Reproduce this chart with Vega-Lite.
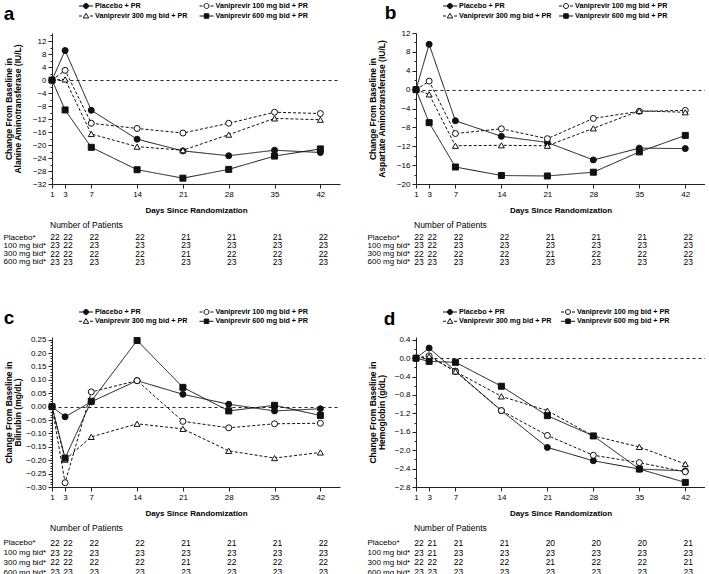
{
"$schema": "https://vega.github.io/schema/vega-lite/v6.json",
"padding": {"left": 3, "top": 1, "right": 0, "bottom": 0},
"background": "white",
"config": {
 "font": "Liberation Sans",
 "view": {"stroke": null},
 "axis": {"domainColor": "#222", "tickColor": "#222", "labelColor": "#000", "labelFontSize": 8, "titleColor": "#000", "titleFontSize": 8.5, "titleFontWeight": "bold", "grid": false, "labelFont": "Liberation Sans", "titleFont": "Liberation Sans"},
 "title": {"color": "#000"}
},
"datasets": {
 "leg": [
  {"group": "Placebo + PR", "col": 1, "row": 1},
  {"group": "Vaniprevir 100 mg bid + PR", "col": 2, "row": 1},
  {"group": "Vaniprevir 300 mg bid + PR", "col": 1, "row": 2},
  {"group": "Vaniprevir 600 mg bid + PR", "col": 2, "row": 2}
 ],
 "a": [
  {"day":1,"group":"Placebo + PR","value":0},{"day":3,"group":"Placebo + PR","value":9.1},{"day":7,"group":"Placebo + PR","value":-9.3},{"day":14,"group":"Placebo + PR","value":-18.2},{"day":21,"group":"Placebo + PR","value":-21.8},{"day":28,"group":"Placebo + PR","value":-23.3},{"day":35,"group":"Placebo + PR","value":-21.6},{"day":42,"group":"Placebo + PR","value":-22.3},
  {"day":1,"group":"Vaniprevir 100 mg bid + PR","value":0},{"day":3,"group":"Vaniprevir 100 mg bid + PR","value":3.0},{"day":7,"group":"Vaniprevir 100 mg bid + PR","value":-13.3},{"day":14,"group":"Vaniprevir 100 mg bid + PR","value":-14.9},{"day":21,"group":"Vaniprevir 100 mg bid + PR","value":-16.3},{"day":28,"group":"Vaniprevir 100 mg bid + PR","value":-13.3},{"day":35,"group":"Vaniprevir 100 mg bid + PR","value":-9.9},{"day":42,"group":"Vaniprevir 100 mg bid + PR","value":-10.3},
  {"day":1,"group":"Vaniprevir 300 mg bid + PR","value":0},{"day":3,"group":"Vaniprevir 300 mg bid + PR","value":0.2},{"day":7,"group":"Vaniprevir 300 mg bid + PR","value":-16.6},{"day":14,"group":"Vaniprevir 300 mg bid + PR","value":-20.5},{"day":21,"group":"Vaniprevir 300 mg bid + PR","value":-21.6},{"day":28,"group":"Vaniprevir 300 mg bid + PR","value":-16.8},{"day":35,"group":"Vaniprevir 300 mg bid + PR","value":-11.8},{"day":42,"group":"Vaniprevir 300 mg bid + PR","value":-12.2},
  {"day":1,"group":"Vaniprevir 600 mg bid + PR","value":0},{"day":3,"group":"Vaniprevir 600 mg bid + PR","value":-9.2},{"day":7,"group":"Vaniprevir 600 mg bid + PR","value":-20.7},{"day":14,"group":"Vaniprevir 600 mg bid + PR","value":-27.6},{"day":21,"group":"Vaniprevir 600 mg bid + PR","value":-30.2},{"day":28,"group":"Vaniprevir 600 mg bid + PR","value":-27.5},{"day":35,"group":"Vaniprevir 600 mg bid + PR","value":-23.4},{"day":42,"group":"Vaniprevir 600 mg bid + PR","value":-21.2}
 ],
 "b": [
  {"day":1,"group":"Placebo + PR","value":0},{"day":3,"group":"Placebo + PR","value":9.6},{"day":7,"group":"Placebo + PR","value":-6.6},{"day":14,"group":"Placebo + PR","value":-9.9},{"day":21,"group":"Placebo + PR","value":-11.2},{"day":28,"group":"Placebo + PR","value":-14.9},{"day":35,"group":"Placebo + PR","value":-12.4},{"day":42,"group":"Placebo + PR","value":-12.5},
  {"day":1,"group":"Vaniprevir 100 mg bid + PR","value":0},{"day":3,"group":"Vaniprevir 100 mg bid + PR","value":1.8},{"day":7,"group":"Vaniprevir 100 mg bid + PR","value":-9.3},{"day":14,"group":"Vaniprevir 100 mg bid + PR","value":-8.3},{"day":21,"group":"Vaniprevir 100 mg bid + PR","value":-10.4},{"day":28,"group":"Vaniprevir 100 mg bid + PR","value":-6.1},{"day":35,"group":"Vaniprevir 100 mg bid + PR","value":-4.6},{"day":42,"group":"Vaniprevir 100 mg bid + PR","value":-4.4},
  {"day":1,"group":"Vaniprevir 300 mg bid + PR","value":0},{"day":3,"group":"Vaniprevir 300 mg bid + PR","value":-1.0},{"day":7,"group":"Vaniprevir 300 mg bid + PR","value":-11.9},{"day":14,"group":"Vaniprevir 300 mg bid + PR","value":-11.8},{"day":21,"group":"Vaniprevir 300 mg bid + PR","value":-11.9},{"day":28,"group":"Vaniprevir 300 mg bid + PR","value":-8.2},{"day":35,"group":"Vaniprevir 300 mg bid + PR","value":-4.5},{"day":42,"group":"Vaniprevir 300 mg bid + PR","value":-4.8},
  {"day":1,"group":"Vaniprevir 600 mg bid + PR","value":0},{"day":3,"group":"Vaniprevir 600 mg bid + PR","value":-7.0},{"day":7,"group":"Vaniprevir 600 mg bid + PR","value":-16.4},{"day":14,"group":"Vaniprevir 600 mg bid + PR","value":-18.2},{"day":21,"group":"Vaniprevir 600 mg bid + PR","value":-18.3},{"day":28,"group":"Vaniprevir 600 mg bid + PR","value":-17.5},{"day":35,"group":"Vaniprevir 600 mg bid + PR","value":-13.2},{"day":42,"group":"Vaniprevir 600 mg bid + PR","value":-9.7}
 ],
 "c": [
  {"day":1,"group":"Placebo + PR","value":0},{"day":3,"group":"Placebo + PR","value":-0.038},{"day":7,"group":"Placebo + PR","value":0.018},{"day":14,"group":"Placebo + PR","value":0.097},{"day":21,"group":"Placebo + PR","value":0.046},{"day":28,"group":"Placebo + PR","value":0.009},{"day":35,"group":"Placebo + PR","value":-0.016},{"day":42,"group":"Placebo + PR","value":-0.008},
  {"day":1,"group":"Vaniprevir 100 mg bid + PR","value":0},{"day":3,"group":"Vaniprevir 100 mg bid + PR","value":-0.284},{"day":7,"group":"Vaniprevir 100 mg bid + PR","value":0.055},{"day":14,"group":"Vaniprevir 100 mg bid + PR","value":0.097},{"day":21,"group":"Vaniprevir 100 mg bid + PR","value":-0.055},{"day":28,"group":"Vaniprevir 100 mg bid + PR","value":-0.079},{"day":35,"group":"Vaniprevir 100 mg bid + PR","value":-0.064},{"day":42,"group":"Vaniprevir 100 mg bid + PR","value":-0.062},
  {"day":1,"group":"Vaniprevir 300 mg bid + PR","value":0},{"day":3,"group":"Vaniprevir 300 mg bid + PR","value":-0.198},{"day":7,"group":"Vaniprevir 300 mg bid + PR","value":-0.113},{"day":14,"group":"Vaniprevir 300 mg bid + PR","value":-0.064},{"day":21,"group":"Vaniprevir 300 mg bid + PR","value":-0.083},{"day":28,"group":"Vaniprevir 300 mg bid + PR","value":-0.165},{"day":35,"group":"Vaniprevir 300 mg bid + PR","value":-0.192},{"day":42,"group":"Vaniprevir 300 mg bid + PR","value":-0.171},
  {"day":1,"group":"Vaniprevir 600 mg bid + PR","value":0},{"day":3,"group":"Vaniprevir 600 mg bid + PR","value":-0.192},{"day":7,"group":"Vaniprevir 600 mg bid + PR","value":0.02},{"day":14,"group":"Vaniprevir 600 mg bid + PR","value":0.247},{"day":21,"group":"Vaniprevir 600 mg bid + PR","value":0.072},{"day":28,"group":"Vaniprevir 600 mg bid + PR","value":-0.016},{"day":35,"group":"Vaniprevir 600 mg bid + PR","value":0.005},{"day":42,"group":"Vaniprevir 600 mg bid + PR","value":-0.033}
 ],
 "d": [
  {"day":1,"group":"Placebo + PR","value":0},{"day":3,"group":"Placebo + PR","value":0.22},{"day":7,"group":"Placebo + PR","value":-0.28},{"day":14,"group":"Placebo + PR","value":-1.14},{"day":21,"group":"Placebo + PR","value":-1.94},{"day":28,"group":"Placebo + PR","value":-2.23},{"day":35,"group":"Placebo + PR","value":-2.41},{"day":42,"group":"Placebo + PR","value":-2.45},
  {"day":1,"group":"Vaniprevir 100 mg bid + PR","value":0},{"day":3,"group":"Vaniprevir 100 mg bid + PR","value":0.05},{"day":7,"group":"Vaniprevir 100 mg bid + PR","value":-0.29},{"day":14,"group":"Vaniprevir 100 mg bid + PR","value":-1.14},{"day":21,"group":"Vaniprevir 100 mg bid + PR","value":-1.68},{"day":28,"group":"Vaniprevir 100 mg bid + PR","value":-2.11},{"day":35,"group":"Vaniprevir 100 mg bid + PR","value":-2.27},{"day":42,"group":"Vaniprevir 100 mg bid + PR","value":-2.47},
  {"day":1,"group":"Vaniprevir 300 mg bid + PR","value":0},{"day":3,"group":"Vaniprevir 300 mg bid + PR","value":0.04},{"day":7,"group":"Vaniprevir 300 mg bid + PR","value":-0.29},{"day":14,"group":"Vaniprevir 300 mg bid + PR","value":-0.83},{"day":21,"group":"Vaniprevir 300 mg bid + PR","value":-1.14},{"day":28,"group":"Vaniprevir 300 mg bid + PR","value":-1.69},{"day":35,"group":"Vaniprevir 300 mg bid + PR","value":-1.93},{"day":42,"group":"Vaniprevir 300 mg bid + PR","value":-2.30},
  {"day":1,"group":"Vaniprevir 600 mg bid + PR","value":0},{"day":3,"group":"Vaniprevir 600 mg bid + PR","value":-0.07},{"day":7,"group":"Vaniprevir 600 mg bid + PR","value":-0.09},{"day":14,"group":"Vaniprevir 600 mg bid + PR","value":-0.61},{"day":21,"group":"Vaniprevir 600 mg bid + PR","value":-1.25},{"day":28,"group":"Vaniprevir 600 mg bid + PR","value":-1.69},{"day":35,"group":"Vaniprevir 600 mg bid + PR","value":-2.41},{"day":42,"group":"Vaniprevir 600 mg bid + PR","value":-2.70}
 ],
 "nABC": [
  {"day":1,"row":"Placebo*","n":22},{"day":3,"row":"Placebo*","n":22},{"day":7,"row":"Placebo*","n":22},{"day":14,"row":"Placebo*","n":22},{"day":21,"row":"Placebo*","n":21},{"day":28,"row":"Placebo*","n":21},{"day":35,"row":"Placebo*","n":21},{"day":42,"row":"Placebo*","n":22},
  {"day":1,"row":"100 mg bid*","n":23},{"day":3,"row":"100 mg bid*","n":22},{"day":7,"row":"100 mg bid*","n":23},{"day":14,"row":"100 mg bid*","n":23},{"day":21,"row":"100 mg bid*","n":23},{"day":28,"row":"100 mg bid*","n":23},{"day":35,"row":"100 mg bid*","n":23},{"day":42,"row":"100 mg bid*","n":23},
  {"day":1,"row":"300 mg bid*","n":22},{"day":3,"row":"300 mg bid*","n":22},{"day":7,"row":"300 mg bid*","n":22},{"day":14,"row":"300 mg bid*","n":22},{"day":21,"row":"300 mg bid*","n":21},{"day":28,"row":"300 mg bid*","n":22},{"day":35,"row":"300 mg bid*","n":22},{"day":42,"row":"300 mg bid*","n":22},
  {"day":1,"row":"600 mg bid*","n":23},{"day":3,"row":"600 mg bid*","n":23},{"day":7,"row":"600 mg bid*","n":23},{"day":14,"row":"600 mg bid*","n":23},{"day":21,"row":"600 mg bid*","n":23},{"day":28,"row":"600 mg bid*","n":23},{"day":35,"row":"600 mg bid*","n":23},{"day":42,"row":"600 mg bid*","n":23}
 ],
 "nD": [
  {"day":1,"row":"Placebo*","n":22},{"day":3,"row":"Placebo*","n":21},{"day":7,"row":"Placebo*","n":21},{"day":14,"row":"Placebo*","n":21},{"day":21,"row":"Placebo*","n":20},{"day":28,"row":"Placebo*","n":20},{"day":35,"row":"Placebo*","n":20},{"day":42,"row":"Placebo*","n":21},
  {"day":1,"row":"100 mg bid*","n":23},{"day":3,"row":"100 mg bid*","n":21},{"day":7,"row":"100 mg bid*","n":23},{"day":14,"row":"100 mg bid*","n":23},{"day":21,"row":"100 mg bid*","n":23},{"day":28,"row":"100 mg bid*","n":23},{"day":35,"row":"100 mg bid*","n":23},{"day":42,"row":"100 mg bid*","n":23},
  {"day":1,"row":"300 mg bid*","n":22},{"day":3,"row":"300 mg bid*","n":22},{"day":7,"row":"300 mg bid*","n":22},{"day":14,"row":"300 mg bid*","n":22},{"day":21,"row":"300 mg bid*","n":21},{"day":28,"row":"300 mg bid*","n":22},{"day":35,"row":"300 mg bid*","n":22},{"day":42,"row":"300 mg bid*","n":21},
  {"day":1,"row":"600 mg bid*","n":23},{"day":3,"row":"600 mg bid*","n":23},{"day":7,"row":"600 mg bid*","n":23},{"day":14,"row":"600 mg bid*","n":23},{"day":21,"row":"600 mg bid*","n":23},{"day":28,"row":"600 mg bid*","n":23},{"day":35,"row":"600 mg bid*","n":23},{"day":42,"row":"600 mg bid*","n":23}
 ]
},
"resolve": {"scale": {"x": "independent", "y": "independent", "shape": "independent", "fill": "independent", "strokeDash": "independent"}},
"spacing": 40,
"vconcat": [
 {
  "spacing": 27,
  "resolve": {"scale": {"x": "independent", "y": "independent", "shape": "independent", "fill": "independent", "strokeDash": "independent"}},
  "hconcat": [
   {
    "spacing": 6,
    "resolve": {"scale": {"x": "independent", "y": "independent", "shape": "independent", "fill": "independent", "strokeDash": "independent"}},
    "vconcat": [
     {
      "width": 288, "height": 18,
      "data": {"name": "leg"},
      "title": {"text": "a", "orient": "left", "angle": 0, "align": "right", "baseline": "middle", "anchor": "middle", "frame": "group", "offset": 27, "dy": 3.5, "fontSize": 19, "fontWeight": "bold", "color": "#000"},
      "encoding": {
       "x": {"field": "col", "type": "quantitative", "scale": {"domain": [1, 2], "range": [34, 154.5]}, "axis": null},
       "y": {"field": "row", "type": "quantitative", "scale": {"domain": [1, 2], "range": [5, 15]}, "axis": null}
      },
      "layer": [
       {"mark": {"type": "point", "filled": true, "stroke": "#111", "strokeWidth": 1, "opacity": 1, "size": 100}, "encoding": {
         "shape": {"field": "group", "scale": {"domain": ["Placebo + PR", "Vaniprevir 100 mg bid + PR", "Vaniprevir 300 mg bid + PR", "Vaniprevir 600 mg bid + PR"], "range": ["M-1.4,0L-0.5,0M0.5,0L1.4,0M0.5,0C0.5,0.276,0.276,0.5,0,0.5C-0.276,0.5,-0.5,0.276,-0.5,0C-0.5,-0.276,-0.276,-0.5,0,-0.5C0.276,-0.5,0.5,-0.276,0.5,0Z", "M-1.4,0L-0.8,0M0.8,0L1.4,0M0.5,0C0.5,0.276,0.276,0.5,0,0.5C-0.276,0.5,-0.5,0.276,-0.5,0C-0.5,-0.276,-0.276,-0.5,0,-0.5C0.276,-0.5,0.5,-0.276,0.5,0Z", "M-1.4,0L-0.8,0M0.8,0L1.4,0M0,-0.55L0.55,0.4L-0.55,0.4Z", "M-1.4,0L-0.45,0M0.45,0L1.4,0M-0.45,-0.45L0.45,-0.45L0.45,0.45L-0.45,0.45Z"]}, "legend": null},
         "fill": {"field": "group", "scale": {"domain": ["Placebo + PR", "Vaniprevir 100 mg bid + PR", "Vaniprevir 300 mg bid + PR", "Vaniprevir 600 mg bid + PR"], "range": ["#111", "#fff", "#fff", "#111"]}, "legend": null}}},
       {"mark": {"type": "text", "align": "left", "baseline": "middle", "dx": 9, "fontSize": 7.2, "fontWeight": "bold", "color": "#000"}, "encoding": {"text": {"field": "group"}}}
      ]
     },
     {
      "width": 288, "height": 151,
      "data": {"name": "a"},
      "encoding": {
       "x": {"field": "day", "type": "quantitative", "scale": {"domain": [1, 45], "nice": false, "zero": false}, "axis": {"values": [1,3,7,14,21,28,35,42], "title": "Days Since Randomization", "titleFontSize": 8, "titlePadding": 8, "labelPadding": 2, "tickSize": 4, "labelFlush": false}},
       "y": {"field": "value", "type": "quantitative", "scale": {"domain": [-32, 14.5], "nice": false, "zero": false}, "axis": {"values": [-32,-30,-28,-26,-24,-22,-20,-18,-16,-14,-12,-10,-8,-6,-4,-2,0,2,4,6,8,10,12,14], "labelExpr": "datum.value % 4 === 0 ? datum.label : ''", "labelOverlap": false, "labelFlush": false, "labelPadding": 2, "tickSize": {"condition": {"test": "datum.value % 4 === 0", "value": 4}, "value": 2}, "grid": true, "gridDash": [3, 3], "gridColor": "#222", "gridOpacity": {"condition": {"test": "datum.value === 0", "value": 1}, "value": 0}, "title": ["Change From Baseline in", "Alanine Aminotransferase (IU/L)"], "titleX": -44, "titleBaseline": "middle", "titleLineHeight": 9}}
      },
      "layer": [
       {"mark": {"type": "line", "color": "#111", "strokeWidth": 1}, "encoding": {"detail": {"field": "group"}, "strokeDash": {"field": "group", "scale": {"domain": ["Placebo + PR", "Vaniprevir 100 mg bid + PR", "Vaniprevir 300 mg bid + PR", "Vaniprevir 600 mg bid + PR"], "range": [[1, 0], [3, 2], [3, 2], [1, 0]]}, "legend": null}}},
       {"mark": {"type": "point", "filled": true, "stroke": "#111", "strokeWidth": 1, "opacity": 1, "size": 36}, "encoding": {
         "fill": {"field": "group", "scale": {"domain": ["Placebo + PR", "Vaniprevir 100 mg bid + PR", "Vaniprevir 300 mg bid + PR", "Vaniprevir 600 mg bid + PR"], "range": ["#111", "#fff", "#fff", "#111"]}, "legend": null},
         "shape": {"field": "group", "scale": {"domain": ["Placebo + PR", "Vaniprevir 100 mg bid + PR", "Vaniprevir 300 mg bid + PR", "Vaniprevir 600 mg bid + PR"], "range": ["circle", "circle", "triangle-up", "square"]}, "legend": null}
       }}
      ]
     },
     {
      "width": 288, "height": 33,
      "data": {"name": "nABC"},
      "title": {"text": "Number of Patients", "anchor": "start", "frame": "group", "fontSize": 8.5, "fontWeight": "normal", "offset": 4, "dx": -2, "color": "#000"},
      "mark": {"type": "text", "fontSize": 8.5, "dx": 3, "color": "#000"},
      "encoding": {
       "x": {"field": "day", "type": "quantitative", "scale": {"domain": [1, 45], "nice": false, "zero": false}, "axis": null},
       "y": {"field": "row", "type": "nominal", "sort": ["Placebo*", "100 mg bid*", "300 mg bid*", "600 mg bid*"], "axis": {"title": null, "domain": false, "ticks": false, "tickSize": 0, "labelAlign": "left", "labelPadding": 49, "labelFontSize": 8, "labelColor": "#000"}},
       "text": {"field": "n", "type": "quantitative"}
      }
     }
    ]
   },
   {
    "spacing": 6,
    "resolve": {"scale": {"x": "independent", "y": "independent", "shape": "independent", "fill": "independent", "strokeDash": "independent"}},
    "vconcat": [
     {
      "width": 289, "height": 17,
      "data": {"name": "leg"},
      "title": {"text": "b", "orient": "left", "angle": 0, "align": "right", "baseline": "middle", "anchor": "middle", "frame": "group", "offset": 8, "dy": 3, "fontSize": 19, "fontWeight": "bold", "color": "#000"},
      "encoding": {
       "x": {"field": "col", "type": "quantitative", "scale": {"domain": [1, 2], "range": [34, 150]}, "axis": null},
       "y": {"field": "row", "type": "quantitative", "scale": {"domain": [1, 2], "range": [5, 15]}, "axis": null}
      },
      "layer": [
       {"mark": {"type": "point", "filled": true, "stroke": "#111", "strokeWidth": 1, "opacity": 1, "size": 100}, "encoding": {
         "shape": {"field": "group", "scale": {"domain": ["Placebo + PR", "Vaniprevir 100 mg bid + PR", "Vaniprevir 300 mg bid + PR", "Vaniprevir 600 mg bid + PR"], "range": ["M-1.4,0L-0.5,0M0.5,0L1.4,0M0.5,0C0.5,0.276,0.276,0.5,0,0.5C-0.276,0.5,-0.5,0.276,-0.5,0C-0.5,-0.276,-0.276,-0.5,0,-0.5C0.276,-0.5,0.5,-0.276,0.5,0Z", "M-1.4,0L-0.8,0M0.8,0L1.4,0M0.5,0C0.5,0.276,0.276,0.5,0,0.5C-0.276,0.5,-0.5,0.276,-0.5,0C-0.5,-0.276,-0.276,-0.5,0,-0.5C0.276,-0.5,0.5,-0.276,0.5,0Z", "M-1.4,0L-0.8,0M0.8,0L1.4,0M0,-0.55L0.55,0.4L-0.55,0.4Z", "M-1.4,0L-0.45,0M0.45,0L1.4,0M-0.45,-0.45L0.45,-0.45L0.45,0.45L-0.45,0.45Z"]}, "legend": null},
         "fill": {"field": "group", "scale": {"domain": ["Placebo + PR", "Vaniprevir 100 mg bid + PR", "Vaniprevir 300 mg bid + PR", "Vaniprevir 600 mg bid + PR"], "range": ["#111", "#fff", "#fff", "#111"]}, "legend": null}}},
       {"mark": {"type": "text", "align": "left", "baseline": "middle", "dx": 9, "fontSize": 7.2, "fontWeight": "bold", "color": "#000"}, "encoding": {"text": {"field": "group"}}}
      ]
     },
     {
      "width": 289, "height": 151,
      "data": {"name": "b"},
      "encoding": {
       "x": {"field": "day", "type": "quantitative", "scale": {"domain": [1, 45], "nice": false, "zero": false}, "axis": {"values": [1,3,7,14,21,28,35,42], "title": "Days Since Randomization", "titleFontSize": 8, "titlePadding": 8, "labelPadding": 2, "tickSize": 4, "labelFlush": false}},
       "y": {"field": "value", "type": "quantitative", "scale": {"domain": [-20, 12], "nice": false, "zero": false}, "axis": {"values": [-20,-18,-16,-14,-12,-10,-8,-6,-4,-2,0,2,4,6,8,10,12], "labelExpr": "datum.value % 4 === 0 ? datum.label : ''", "labelOverlap": false, "labelFlush": false, "labelPadding": 2, "tickSize": {"condition": {"test": "datum.value % 4 === 0", "value": 4}, "value": 2}, "grid": true, "gridDash": [3, 3], "gridColor": "#222", "gridOpacity": {"condition": {"test": "datum.value === 0", "value": 1}, "value": 0}, "title": ["Change From Baseline in", "Aspartate Aminotransferase (IU/L)"], "titleX": -44, "titleBaseline": "middle", "titleLineHeight": 9}}
      },
      "layer": [
       {"mark": {"type": "line", "color": "#111", "strokeWidth": 1}, "encoding": {"detail": {"field": "group"}, "strokeDash": {"field": "group", "scale": {"domain": ["Placebo + PR", "Vaniprevir 100 mg bid + PR", "Vaniprevir 300 mg bid + PR", "Vaniprevir 600 mg bid + PR"], "range": [[1, 0], [3, 2], [3, 2], [1, 0]]}, "legend": null}}},
       {"mark": {"type": "point", "filled": true, "stroke": "#111", "strokeWidth": 1, "opacity": 1, "size": 36}, "encoding": {
         "fill": {"field": "group", "scale": {"domain": ["Placebo + PR", "Vaniprevir 100 mg bid + PR", "Vaniprevir 300 mg bid + PR", "Vaniprevir 600 mg bid + PR"], "range": ["#111", "#fff", "#fff", "#111"]}, "legend": null},
         "shape": {"field": "group", "scale": {"domain": ["Placebo + PR", "Vaniprevir 100 mg bid + PR", "Vaniprevir 300 mg bid + PR", "Vaniprevir 600 mg bid + PR"], "range": ["circle", "circle", "triangle-up", "square"]}, "legend": null}
       }}
      ]
     },
     {
      "width": 289, "height": 33,
      "data": {"name": "nABC"},
      "title": {"text": "Number of Patients", "anchor": "start", "frame": "group", "fontSize": 8.5, "fontWeight": "normal", "offset": 4, "dx": -2, "color": "#000"},
      "mark": {"type": "text", "fontSize": 8.5, "dx": 3, "color": "#000"},
      "encoding": {
       "x": {"field": "day", "type": "quantitative", "scale": {"domain": [1, 45], "nice": false, "zero": false}, "axis": null},
       "y": {"field": "row", "type": "nominal", "sort": ["Placebo*", "100 mg bid*", "300 mg bid*", "600 mg bid*"], "axis": {"title": null, "domain": false, "ticks": false, "tickSize": 0, "labelAlign": "left", "labelPadding": 49, "labelFontSize": 8, "labelColor": "#000"}},
       "text": {"field": "n", "type": "quantitative"}
      }
     }
    ]
   }
  ]
 },
 {
  "spacing": 27,
  "resolve": {"scale": {"x": "independent", "y": "independent", "shape": "independent", "fill": "independent", "strokeDash": "independent"}},
  "hconcat": [
   {
    "spacing": 6,
    "resolve": {"scale": {"x": "independent", "y": "independent", "shape": "independent", "fill": "independent", "strokeDash": "independent"}},
    "vconcat": [
     {
      "width": 288, "height": 22,
      "data": {"name": "leg"},
      "title": {"text": "c", "orient": "left", "angle": 0, "align": "right", "baseline": "middle", "anchor": "middle", "frame": "group", "offset": 27, "fontSize": 19, "fontWeight": "bold", "color": "#000"},
      "encoding": {
       "x": {"field": "col", "type": "quantitative", "scale": {"domain": [1, 2], "range": [34, 154.5]}, "axis": null},
       "y": {"field": "row", "type": "quantitative", "scale": {"domain": [1, 2], "range": [5, 14.3]}, "axis": null}
      },
      "layer": [
       {"mark": {"type": "point", "filled": true, "stroke": "#111", "strokeWidth": 1, "opacity": 1, "size": 100}, "encoding": {
         "shape": {"field": "group", "scale": {"domain": ["Placebo + PR", "Vaniprevir 100 mg bid + PR", "Vaniprevir 300 mg bid + PR", "Vaniprevir 600 mg bid + PR"], "range": ["M-1.4,0L-0.5,0M0.5,0L1.4,0M0.5,0C0.5,0.276,0.276,0.5,0,0.5C-0.276,0.5,-0.5,0.276,-0.5,0C-0.5,-0.276,-0.276,-0.5,0,-0.5C0.276,-0.5,0.5,-0.276,0.5,0Z", "M-1.4,0L-0.8,0M0.8,0L1.4,0M0.5,0C0.5,0.276,0.276,0.5,0,0.5C-0.276,0.5,-0.5,0.276,-0.5,0C-0.5,-0.276,-0.276,-0.5,0,-0.5C0.276,-0.5,0.5,-0.276,0.5,0Z", "M-1.4,0L-0.8,0M0.8,0L1.4,0M0,-0.55L0.55,0.4L-0.55,0.4Z", "M-1.4,0L-0.45,0M0.45,0L1.4,0M-0.45,-0.45L0.45,-0.45L0.45,0.45L-0.45,0.45Z"]}, "legend": null},
         "fill": {"field": "group", "scale": {"domain": ["Placebo + PR", "Vaniprevir 100 mg bid + PR", "Vaniprevir 300 mg bid + PR", "Vaniprevir 600 mg bid + PR"], "range": ["#111", "#fff", "#fff", "#111"]}, "legend": null}}},
       {"mark": {"type": "text", "align": "left", "baseline": "middle", "dx": 9, "fontSize": 7.2, "fontWeight": "bold", "color": "#000"}, "encoding": {"text": {"field": "group"}}}
      ]
     },
     {
      "width": 288, "height": 150,
      "data": {"name": "c"},
      "encoding": {
       "x": {"field": "day", "type": "quantitative", "scale": {"domain": [1, 45], "nice": false, "zero": false}, "axis": {"values": [1,3,7,14,21,28,35,42], "title": "Days Since Randomization", "titleFontSize": 8, "titlePadding": 8, "labelPadding": 2, "tickSize": 4, "labelFlush": false}},
       "y": {"field": "value", "type": "quantitative", "scale": {"domain": [-0.3, 0.26], "nice": false, "zero": false}, "axis": {"values": [-0.3,-0.29,-0.28,-0.27,-0.26,-0.25,-0.24,-0.23,-0.22,-0.21,-0.2,-0.19,-0.18,-0.17,-0.16,-0.15,-0.14,-0.13,-0.12,-0.11,-0.1,-0.09,-0.08,-0.07,-0.06,-0.05,-0.04,-0.03,-0.02,-0.01,0,0.01,0.02,0.03,0.04,0.05,0.06,0.07,0.08,0.09,0.1,0.11,0.12,0.13,0.14,0.15,0.16,0.17,0.18,0.19,0.2,0.21,0.22,0.23,0.24,0.25], "format": ".2f", "labelExpr": "round(datum.value * 100) % 5 === 0 ? datum.label : ''", "labelOverlap": false, "labelFlush": false, "labelPadding": 2, "tickSize": {"condition": {"test": "round(datum.value * 100) % 5 === 0", "value": 4}, "value": 2}, "grid": true, "gridDash": [3, 3], "gridColor": "#222", "gridOpacity": {"condition": {"test": "abs(datum.value) < 0.001", "value": 1}, "value": 0}, "title": ["Change From Baseline in", "Bilirubin (mg/dL)"], "titleX": -44, "titleBaseline": "middle", "titleLineHeight": 9}}
      },
      "layer": [
       {"mark": {"type": "line", "color": "#111", "strokeWidth": 1}, "encoding": {"detail": {"field": "group"}, "strokeDash": {"field": "group", "scale": {"domain": ["Placebo + PR", "Vaniprevir 100 mg bid + PR", "Vaniprevir 300 mg bid + PR", "Vaniprevir 600 mg bid + PR"], "range": [[1, 0], [3, 2], [3, 2], [1, 0]]}, "legend": null}}},
       {"mark": {"type": "point", "filled": true, "stroke": "#111", "strokeWidth": 1, "opacity": 1, "size": 36}, "encoding": {
         "fill": {"field": "group", "scale": {"domain": ["Placebo + PR", "Vaniprevir 100 mg bid + PR", "Vaniprevir 300 mg bid + PR", "Vaniprevir 600 mg bid + PR"], "range": ["#111", "#fff", "#fff", "#111"]}, "legend": null},
         "shape": {"field": "group", "scale": {"domain": ["Placebo + PR", "Vaniprevir 100 mg bid + PR", "Vaniprevir 300 mg bid + PR", "Vaniprevir 600 mg bid + PR"], "range": ["circle", "circle", "triangle-up", "square"]}, "legend": null}
       }}
      ]
     },
     {
      "width": 288, "height": 39,
      "data": {"name": "nABC"},
      "title": {"text": "Number of Patients", "anchor": "start", "frame": "group", "fontSize": 8.5, "fontWeight": "normal", "offset": 6, "dx": -2, "color": "#000"},
      "mark": {"type": "text", "fontSize": 8.5, "dx": 3, "color": "#000"},
      "encoding": {
       "x": {"field": "day", "type": "quantitative", "scale": {"domain": [1, 45], "nice": false, "zero": false}, "axis": null},
       "y": {"field": "row", "type": "nominal", "sort": ["Placebo*", "100 mg bid*", "300 mg bid*", "600 mg bid*"], "axis": {"title": null, "domain": false, "ticks": false, "tickSize": 0, "labelAlign": "left", "labelPadding": 49, "labelFontSize": 8, "labelColor": "#000"}},
       "text": {"field": "n", "type": "quantitative"}
      }
     }
    ]
   },
   {
    "spacing": 6,
    "resolve": {"scale": {"x": "independent", "y": "independent", "shape": "independent", "fill": "independent", "strokeDash": "independent"}},
    "vconcat": [
     {
      "width": 289, "height": 21,
      "data": {"name": "leg"},
      "title": {"text": "d", "orient": "left", "angle": 0, "align": "right", "baseline": "middle", "anchor": "middle", "frame": "group", "offset": 9, "dy": 1.5, "fontSize": 19, "fontWeight": "bold", "color": "#000"},
      "encoding": {
       "x": {"field": "col", "type": "quantitative", "scale": {"domain": [1, 2], "range": [34, 152]}, "axis": null},
       "y": {"field": "row", "type": "quantitative", "scale": {"domain": [1, 2], "range": [5, 14.3]}, "axis": null}
      },
      "layer": [
       {"mark": {"type": "point", "filled": true, "stroke": "#111", "strokeWidth": 1, "opacity": 1, "size": 100}, "encoding": {
         "shape": {"field": "group", "scale": {"domain": ["Placebo + PR", "Vaniprevir 100 mg bid + PR", "Vaniprevir 300 mg bid + PR", "Vaniprevir 600 mg bid + PR"], "range": ["M-1.4,0L-0.5,0M0.5,0L1.4,0M0.5,0C0.5,0.276,0.276,0.5,0,0.5C-0.276,0.5,-0.5,0.276,-0.5,0C-0.5,-0.276,-0.276,-0.5,0,-0.5C0.276,-0.5,0.5,-0.276,0.5,0Z", "M-1.4,0L-0.8,0M0.8,0L1.4,0M0.5,0C0.5,0.276,0.276,0.5,0,0.5C-0.276,0.5,-0.5,0.276,-0.5,0C-0.5,-0.276,-0.276,-0.5,0,-0.5C0.276,-0.5,0.5,-0.276,0.5,0Z", "M-1.4,0L-0.8,0M0.8,0L1.4,0M0,-0.55L0.55,0.4L-0.55,0.4Z", "M-1.4,0L-0.45,0M0.45,0L1.4,0M-0.45,-0.45L0.45,-0.45L0.45,0.45L-0.45,0.45Z"]}, "legend": null},
         "fill": {"field": "group", "scale": {"domain": ["Placebo + PR", "Vaniprevir 100 mg bid + PR", "Vaniprevir 300 mg bid + PR", "Vaniprevir 600 mg bid + PR"], "range": ["#111", "#fff", "#fff", "#111"]}, "legend": null}}},
       {"mark": {"type": "text", "align": "left", "baseline": "middle", "dx": 9, "fontSize": 7.2, "fontWeight": "bold", "color": "#000"}, "encoding": {"text": {"field": "group"}}}
      ]
     },
     {
      "width": 289, "height": 150,
      "data": {"name": "d"},
      "encoding": {
       "x": {"field": "day", "type": "quantitative", "scale": {"domain": [1, 45], "nice": false, "zero": false}, "axis": {"values": [1,3,7,14,21,28,35,42], "title": "Days Since Randomization", "titleFontSize": 8, "titlePadding": 8, "labelPadding": 2, "tickSize": 4, "labelFlush": false}},
       "y": {"field": "value", "type": "quantitative", "scale": {"domain": [-2.8, 0.46], "nice": false, "zero": false}, "axis": {"values": [-2.8,-2.6,-2.4,-2.2,-2,-1.8,-1.6,-1.4,-1.2,-1,-0.8,-0.6,-0.4,-0.2,0,0.2,0.4], "format": ".1f", "labelExpr": "round(datum.value * 10) % 4 === 0 ? datum.label : ''", "labelOverlap": false, "labelFlush": false, "labelPadding": 2, "tickSize": {"condition": {"test": "round(datum.value * 10) % 4 === 0", "value": 4}, "value": 2}, "grid": true, "gridDash": [3, 3], "gridColor": "#222", "gridOpacity": {"condition": {"test": "abs(datum.value) < 0.001", "value": 1}, "value": 0}, "title": ["Change From Baseline in", "Hemoglobin (g/dL)"], "titleX": -44, "titleBaseline": "middle", "titleLineHeight": 9}}
      },
      "layer": [
       {"mark": {"type": "line", "color": "#111", "strokeWidth": 1}, "encoding": {"detail": {"field": "group"}, "strokeDash": {"field": "group", "scale": {"domain": ["Placebo + PR", "Vaniprevir 100 mg bid + PR", "Vaniprevir 300 mg bid + PR", "Vaniprevir 600 mg bid + PR"], "range": [[1, 0], [3, 2], [3, 2], [1, 0]]}, "legend": null}}},
       {"mark": {"type": "point", "filled": true, "stroke": "#111", "strokeWidth": 1, "opacity": 1, "size": 36}, "encoding": {
         "fill": {"field": "group", "scale": {"domain": ["Placebo + PR", "Vaniprevir 100 mg bid + PR", "Vaniprevir 300 mg bid + PR", "Vaniprevir 600 mg bid + PR"], "range": ["#111", "#fff", "#fff", "#111"]}, "legend": null},
         "shape": {"field": "group", "scale": {"domain": ["Placebo + PR", "Vaniprevir 100 mg bid + PR", "Vaniprevir 300 mg bid + PR", "Vaniprevir 600 mg bid + PR"], "range": ["circle", "circle", "triangle-up", "square"]}, "legend": null}
       }}
      ]
     },
     {
      "width": 289, "height": 39,
      "data": {"name": "nD"},
      "title": {"text": "Number of Patients", "anchor": "start", "frame": "group", "fontSize": 8.5, "fontWeight": "normal", "offset": 6, "dx": -2, "color": "#000"},
      "mark": {"type": "text", "fontSize": 8.5, "dx": 3, "color": "#000"},
      "encoding": {
       "x": {"field": "day", "type": "quantitative", "scale": {"domain": [1, 45], "nice": false, "zero": false}, "axis": null},
       "y": {"field": "row", "type": "nominal", "sort": ["Placebo*", "100 mg bid*", "300 mg bid*", "600 mg bid*"], "axis": {"title": null, "domain": false, "ticks": false, "tickSize": 0, "labelAlign": "left", "labelPadding": 49, "labelFontSize": 8, "labelColor": "#000"}},
       "text": {"field": "n", "type": "quantitative"}
      }
     }
    ]
   }
  ]
 }
]
}
